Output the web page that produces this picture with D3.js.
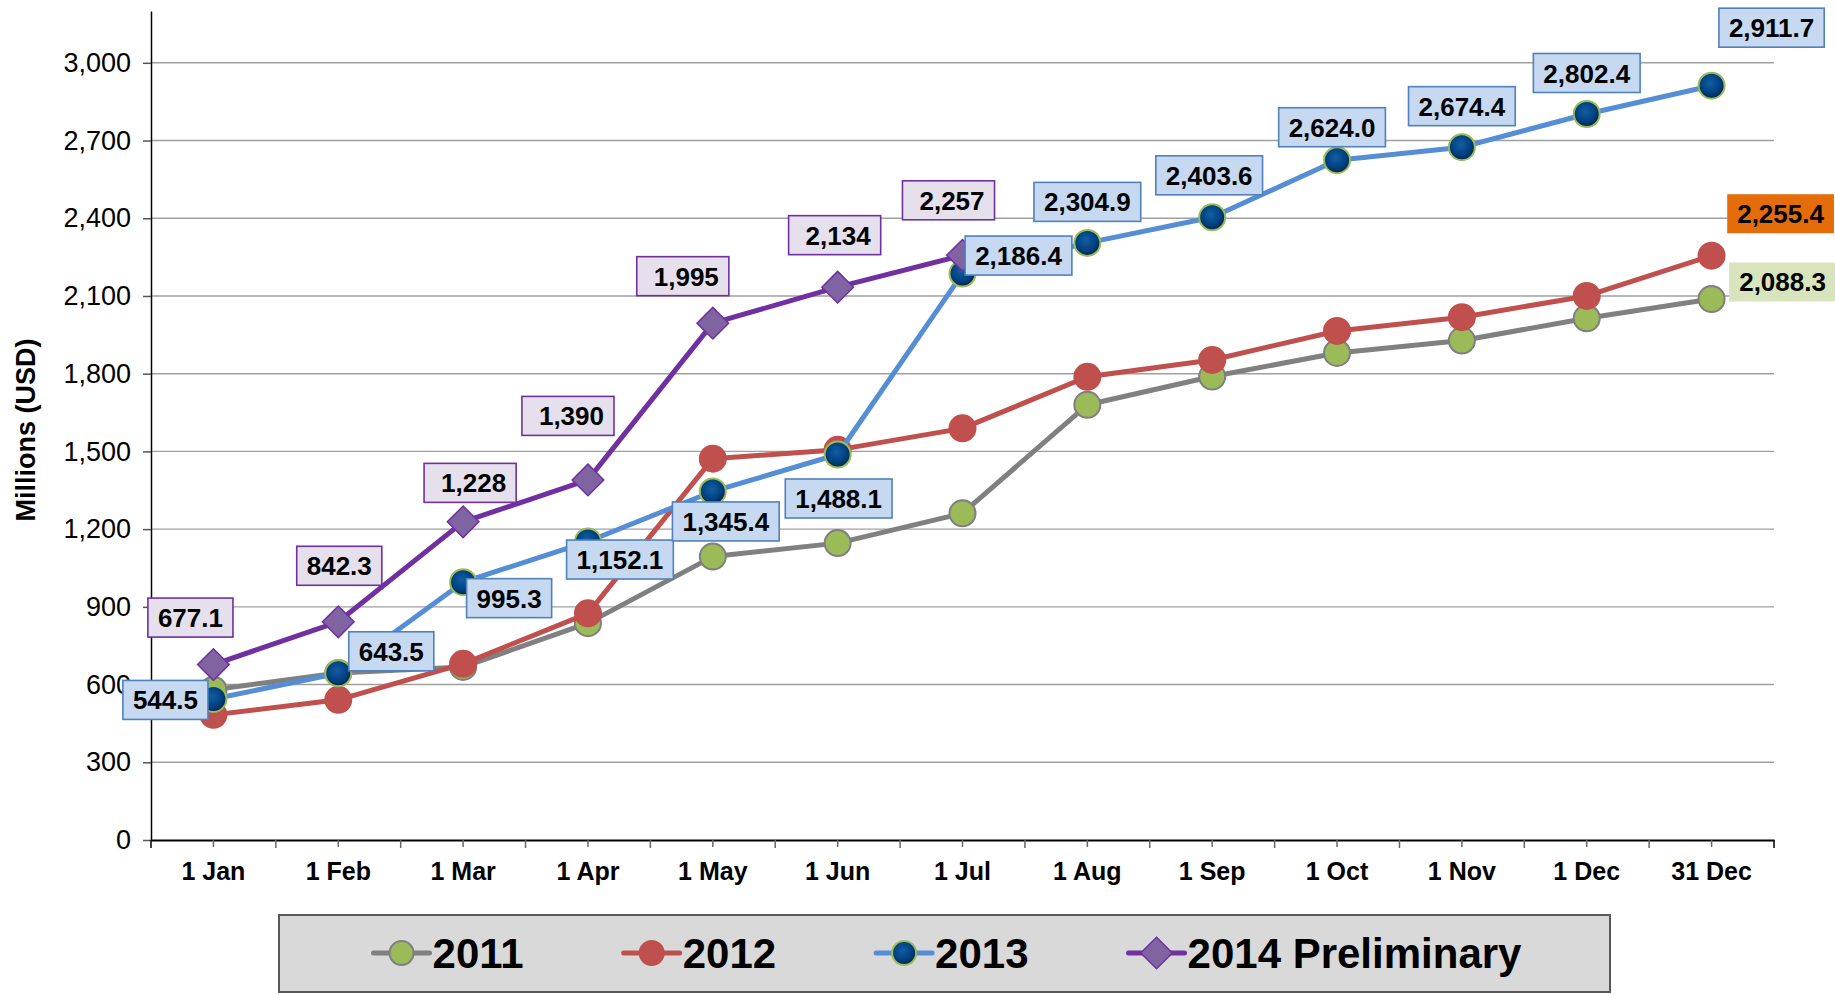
<!DOCTYPE html>
<html>
<head>
<meta charset="utf-8">
<script src="https://cdn.jsdelivr.net/npm/d3@7"></script>
<style>
  html, body { margin: 0; padding: 0; background: #ffffff; }
  svg { display: block; }
</style>
</head>
<body>
<svg id="chart" width="1835" height="995"></svg>
<script>
// ---------------- data ----------------
const categories = ["1 Jan","1 Feb","1 Mar","1 Apr","1 May","1 Jun","1 Jul","1 Aug","1 Sep","1 Oct","1 Nov","1 Dec","31 Dec"];
const values2011 = [580, 645, 668, 837, 1094, 1146, 1261, 1680, 1789, 1880, 1928, 2014, 2088.3];
const values2012 = [483, 541, 680, 875, 1472, 1506, 1589, 1788, 1853, 1965, 2018, 2100, 2255.4];
const values2013 = [544.5, 643.5, 995.3, 1152.1, 1345.4, 1488.1, 2186.4, 2304.9, 2403.6, 2624.0, 2674.4, 2802.4, 2911.7];
const values2014 = [677.1, 842.3, 1228, 1390, 1995, 2134, 2257];
const seriesNames = ["2011", "2012", "2013", "2014 Preliminary"];
const yTickValues = [0, 300, 600, 900, 1200, 1500, 1800, 2100, 2400, 2700, 3000];
const yMax = 3200;
const yTitle = "Millions (USD)";

// ---------------- layout / style ----------------
const plot = { left: 151, right: 1774, top: 11, bottom: 840 };
const styles = [
  { line: "#808080", fill: "#9BBB59", stroke: "#7F7F7F", shape: "circle" },
  { line: "#C0504D", fill: "#C0504D", stroke: "#C0504D", shape: "circle" },
  { line: "#558ED5", fill: "url(#navyGrad)", stroke: "#9BBB59", shape: "circle" },
  { line: "#7030A0", fill: "#8064A2", stroke: "#7030A0", shape: "diamond" }
];
// label offsets (box centre relative to point), per series; null = no label
const labelOff2011 = [null,null,null,null,null,null,null,null,null,null,null,null,[71,-17]];
const labelOff2012 = [null,null,null,null,null,null,null,null,null,null,null,null,[69,-42]];
const labelOff2013 = [[-48,1],[53,-22],[46,16],[32,18],[13,30],[1,44],[56,-18],[0,-41],[-3,-42],[-5,-33],[0,-41],[0,-41],[60,-58]];
const labelOff2014 = [[-23,-47],[1,-56],[7,-39],[-20,-64],[-30,-47],[-3,-52],[-14,-55]];
const labelStyles = [
  { fill: "#D7E4BD", stroke: "none" },
  { fill: "#E46C0A", stroke: "none" },
  { fill: "#C6D9F1", stroke: "#4F81BD" },
  { fill: "#E6E0EC", stroke: "#7030A0" }
];
const FONT = "'Liberation Sans', Arial, Helvetica, sans-serif";

const svg = d3.select("#chart");
const defs = svg.append("defs");
const grad = defs.append("radialGradient").attr("id", "navyGrad")
  .attr("cx", "45%").attr("cy", "40%").attr("r", "60%");
grad.append("stop").attr("offset", "0%").attr("stop-color", "#135EA2");
grad.append("stop").attr("offset", "65%").attr("stop-color", "#004080");
grad.append("stop").attr("offset", "100%").attr("stop-color", "#00264D");

const x = d3.scaleBand().domain(categories).range([plot.left, plot.right]).padding(0);
const xc = c => x(c) + x.bandwidth() / 2;
const y = d3.scaleLinear().domain([0, yMax]).range([plot.bottom, plot.top]);

// gridlines
svg.append("g").selectAll("line").data(yTickValues.filter(v => v > 0)).join("line")
  .attr("x1", plot.left).attr("x2", plot.right)
  .attr("y1", d => y(d)).attr("y2", d => y(d))
  .attr("stroke", "#A0A0A0").attr("stroke-width", 1.4);

// y axis
const yAxis = svg.append("g").attr("transform", `translate(${plot.left},0)`)
  .call(d3.axisLeft(y).tickValues(yTickValues).tickSize(8).tickSizeOuter(0).tickPadding(12)
    .tickFormat(d3.format(",")));
yAxis.select(".domain").attr("stroke", "#000").attr("stroke-width", 1.5);
yAxis.selectAll(".tick line").attr("stroke", "#555").attr("stroke-width", 1.5);
yAxis.selectAll(".tick text").attr("font-family", FONT).attr("font-size", 27).attr("fill", "#000");

// x axis
const xAxis = svg.append("g").attr("transform", `translate(0,${plot.bottom})`)
  .call(d3.axisBottom(x).tickSize(7).tickSizeOuter(0).tickPadding(15));
xAxis.select(".domain").attr("stroke", "#000").attr("stroke-width", 2);
xAxis.selectAll(".tick line").attr("stroke", "#666").attr("stroke-width", 1.5);
xAxis.selectAll(".tick text").attr("font-family", FONT).attr("font-size", 25)
  .attr("font-weight", "bold").attr("fill", "#000");
// boundary ticks
xAxis.append("g").selectAll("line")
  .data(categories.map(c => x(c)).concat([plot.right])).join("line")
  .attr("x1", d => d).attr("x2", d => d).attr("y1", 0).attr("y2", 8)
  .attr("stroke", (d, i, a) => (i === 0 || i === a.length - 1) ? "#000" : "#666")
  .attr("stroke-width", 1.5);

// y title
svg.append("text")
  .attr("transform", `translate(35,430) rotate(-90)`)
  .attr("text-anchor", "middle")
  .attr("font-family", FONT).attr("font-size", 27).attr("font-weight", "bold")
  .text(yTitle);

// series
const allSeries = [values2011, values2012, values2013, values2014];
const allOffsets = [labelOff2011, labelOff2012, labelOff2013, labelOff2014];
const line = d3.line().x(d => xc(d.c)).y(d => y(d.v));
const diamond = d3.symbol(d3.symbolSquare, 500);

function drawMarker(g, st, cx, cy, r) {
  if (st.shape === "circle") {
    g.append("circle").attr("cx", cx).attr("cy", cy).attr("r", r)
      .attr("fill", st.fill).attr("stroke", st.stroke).attr("stroke-width", 2);
  } else {
    g.append("path").attr("d", diamond())
      .attr("transform", `translate(${cx},${cy}) rotate(45)`)
      .attr("fill", st.fill).attr("stroke", st.stroke).attr("stroke-width", 1.5);
  }
}

allSeries.forEach((vals, si) => {
  const pts = vals.map((v, i) => ({ c: categories[i], v }));
  const g = svg.append("g");
  g.append("path").datum(pts).attr("d", line)
    .attr("fill", "none").attr("stroke", styles[si].line).attr("stroke-width", 5)
    .attr("stroke-linejoin", "round");
  pts.forEach(p => drawMarker(g, styles[si], xc(p.c), y(p.v), 13));
});

// data labels
const fmt1 = d3.format(",.1f");
const fmtInt = d3.format(",");
const fmt = (v, si) => (si === 3 && Number.isInteger(v)) ? fmtInt(v) : fmt1(v);
const labelLayer = svg.append("g");
allSeries.forEach((vals, si) => {
  vals.forEach((v, i) => {
    const off = allOffsets[si][i];
    if (!off) return;
    const cx = xc(categories[i]) + off[0];
    const cy = y(v) + off[1];
    const g = labelLayer.append("g");
    const rect = g.append("rect");
    const t = g.append("text")
      .attr("font-family", FONT).attr("font-size", 26).attr("font-weight", "bold")
      .attr("fill", "#000").text(fmt(v, si));
    const tw = t.node().getComputedTextLength();
    const padL = (si === 3 && Number.isInteger(v)) ? 17 : 10;
    const padR = 10;
    const w = tw + padL + padR, h = 39;
    const left = cx - w / 2;
    rect.attr("x", left).attr("y", cy - h / 2).attr("width", w).attr("height", h)
      .attr("fill", labelStyles[si].fill)
      .attr("stroke", labelStyles[si].stroke).attr("stroke-width", 1.6);
    t.attr("x", left + padL).attr("y", cy + 9.5);
  });
});

// legend
const legendBox = { x: 279, y: 915, w: 1331, h: 77 };
const lg = svg.append("g");
lg.append("rect").attr("x", legendBox.x).attr("y", legendBox.y)
  .attr("width", legendBox.w).attr("height", legendBox.h)
  .attr("fill", "#D9D9D9").attr("stroke", "#595959").attr("stroke-width", 2);
const items = lg.append("g");
let cursor = 0;
const lineLen = 56, gapText = 3, gapItem = 100;
const cyL = legendBox.y + 38;
seriesNames.forEach((name, si) => {
  const ig = items.append("g");
  ig.append("line").attr("x1", cursor).attr("x2", cursor + lineLen)
    .attr("y1", cyL).attr("y2", cyL)
    .attr("stroke", styles[si].line).attr("stroke-width", 5).attr("stroke-linecap", "round");
  drawMarker(ig, styles[si], cursor + lineLen / 2, cyL, 12);
  const t = ig.append("text").attr("x", cursor + lineLen + gapText).attr("y", cyL + 15)
    .attr("font-family", FONT).attr("font-size", 42).attr("font-weight", "bold")
    .attr("fill", "#000").text(name);
  cursor += lineLen + gapText + t.node().getComputedTextLength() + gapItem;
});
const totalW = cursor - gapItem;
items.attr("transform", `translate(${legendBox.x + legendBox.w / 2 - totalW / 2 + 3},0)`);
</script>
</body>
</html>
